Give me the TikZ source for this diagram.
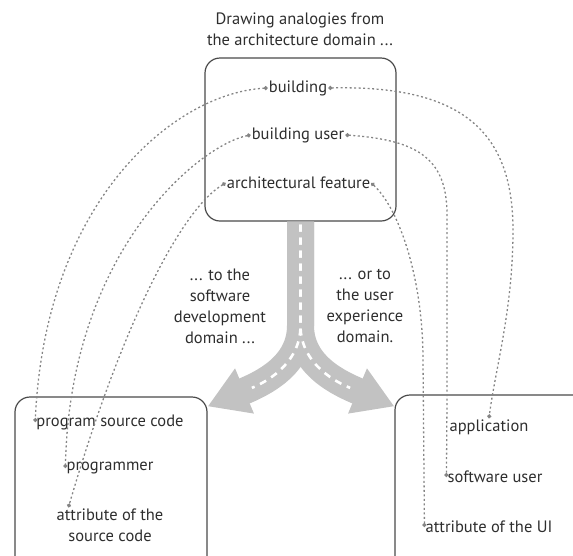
\documentclass[tikz,border=0pt]{standalone}
\usepackage{fontspec}
\setmainfont{PT Sans}
\usepackage{xcolor}
\usetikzlibrary{arrows.meta}

\definecolor{inkgray}{HTML}{2E2E2E}
\definecolor{framegray}{HTML}{4A4A4A}
\definecolor{dotgray}{HTML}{858585}
\definecolor{roadgray}{HTML}{C2C2C2}

\tikzset{
  panel/.style={draw=framegray,line width=1.2pt,rounded corners=15pt,inner sep=0pt},
  item/.style={text=inkgray,inner sep=1pt,font=\fontsize{16.5}{21}\selectfont,align=center},
  note/.style={text=inkgray,font=\fontsize{16.5}{21}\selectfont,align=center},
  link/.style={draw=dotgray,line width=1.3pt,dash pattern=on 2pt off 2.5pt,
    {Circle[length=4pt,fill=dotgray!85!black]}-{Circle[length=4pt,fill=dotgray!85!black]}},
  road/.style={draw=roadgray,line width=27pt,-{Triangle[width=46pt,length=40pt]}},
  lane/.style={draw=white,line width=2.6pt,dash pattern=on 7pt off 6pt,shorten >=48pt}
}

\begin{document}
\begin{tikzpicture}[x=1pt,y=-1pt]
\useasboundingbox (0,0) rectangle (573,555);

% heading
\node (head) at (300,29) [note] {Drawing analogies from\\the architecture domain ...};

% boxes
\node (arch) at (300.5,139.5) [panel,minimum width=191pt,minimum height=163pt] {};
\node (soft) at (111,486) [panel,minimum width=192pt,minimum height=178pt] {};
\node (ux) at (492.5,485) [panel,minimum width=195pt,minimum height=180pt] {};

% architecture items
\node (bld) at (298,88) [item] {building};
\node (bu) at (298,135) [item] {building user};
\node (af) at (298.5,183) [item] {architectural feature};

% software items
\node (psc) at (110,422) [item] {program source code};
\node (prg) at (110,468) [item] {programmer};
\node (asc) at (110,525) [item] {attribute of the\\source code};

% ux items
\node (app) at (489,427) [item] {application};
\node (sfu) at (495,477) [item] {software user};
\node (aui) at (489,527) [item] {attribute of the UI};

% domain notes
\node (tosw) at (220,306) [note] {... to the\\software\\development\\domain ...};
\node (toux) at (365,306) [note] {... or to\\the user\\experience\\domain.};

% the road
\coordinate (fork) at ([yshift=-104pt]arch.south);
\coordinate (swtip) at ([yshift=-10pt]soft.north east);
\coordinate (uxtip) at ([yshift=-12pt]ux.north west);
\draw[road] (arch.south) -- (fork) .. controls +(0,40) and +(55,-23) .. (swtip);
\draw[road] (arch.south) -- (fork) .. controls +(0,40) and +(-55,-23) .. (uxtip);
\draw[lane] ([yshift=-3pt]arch.south) -- (fork) .. controls +(0,40) and +(55,-23) .. (swtip);
\draw[lane] ([yshift=-3pt]arch.south) -- (fork) .. controls +(0,40) and +(-55,-23) .. (uxtip);

% analogies
\draw[link] (bld.west) .. controls (175,93) and (45,200) .. (psc.west);
\draw[link] (bu.west) .. controls (200,145) and (70,250) .. (prg.west);
\draw[link] (af.west) .. controls (180,210) and (120,330) .. ([xshift=13pt]asc.north west);
\draw[link] (bld.east) .. controls (460,85) and (513,130) .. (513,230)
  .. controls (513,310) and (495,370) .. (app.north);
\draw[link] (bu.east) .. controls (420,140) and (447,160) .. (447,215) -- (447,400) -- (sfu.west);
\draw[link] (af.east) .. controls (400,210) and (423,280) .. (423,360) -- (aui.west);
\end{tikzpicture}
\end{document}
